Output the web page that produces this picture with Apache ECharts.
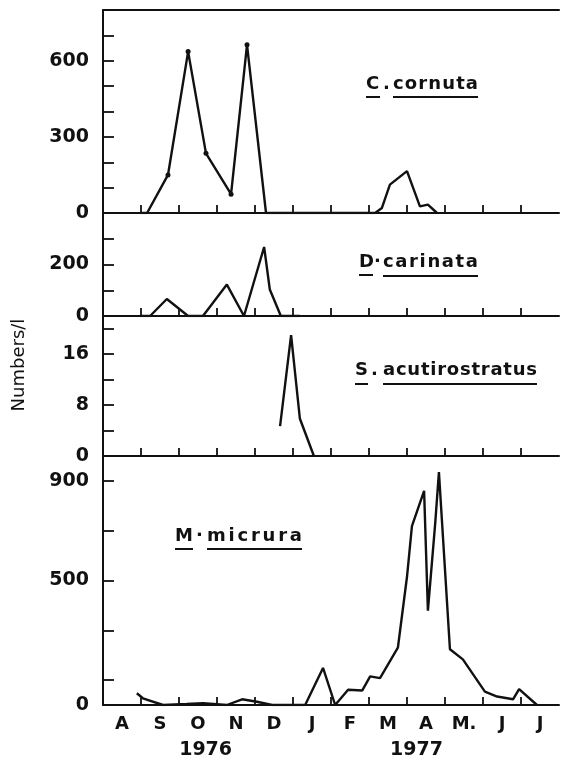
<!DOCTYPE html>
<html><head><meta charset="utf-8">
<script src="https://cdn.jsdelivr.net/npm/echarts@6/dist/echarts.min.js"></script>
<style>html,body{margin:0;padding:0;background:#fff}#c{width:565px;height:760px}</style>
</head><body><div id="c"></div>
<script>
// x values are months elapsed since 1 Aug 1976
const monthLabels = ['A','S','O','N','D','J','F','M','A','M.','J','J'];
const monthTicks = [1,2,3,4,5,6,7,8,9,10,11];
const yearLabels = ['1976','1977'];
const yearAt = [2.7, 8.25];

const cornutaX = [1.0, 1.16, 1.71, 2.24, 2.71, 3.37, 3.79, 4.29, 7.16, 7.34, 7.55, 8.0, 8.34, 8.55, 8.79];
const cornutaY = [0, 0, 150, 636, 235, 74, 663, 0, 0, 20, 112, 165, 26, 33, 0];
const cornutaTicks = [100,200,300,400,500,600,700];
const cornutaLabels = [0,300,600];

const carinataX = [0.97, 1.24, 1.68, 2.24, 2.63, 3.26, 3.71, 4.24, 4.39, 4.68, 5.18];
const carinataY = [0, 0, 66, 0, 0, 122, 0, 268, 103, 0, 0];
const carinataTicks = [100,200,300];
const carinataLabels = [0,200];

const acutiX = [4.66, 4.95, 5.18, 5.55];
const acutiY = [4.7, 19, 5.9, 0];
const acutiTicks = [4,8,12,16,20];
const acutiLabels = [0,8,16];

const micruraX = [0.89, 1.05, 1.58, 2.2, 2.63, 3.26, 3.66, 4.05, 4.45, 5.32, 5.79, 6.11, 6.45, 6.82, 7.03, 7.29, 7.76, 8.0, 8.13, 8.45, 8.55, 8.74, 8.84, 9.13, 9.47, 10.05, 10.37, 10.79, 10.95, 11.42];
const micruraY = [47, 27, 0, 4, 7, 0, 23, 13, 0, 0, 149, 0, 61, 58, 115, 108, 230, 515, 718, 860, 379, 725, 935, 224, 183, 54, 34, 23, 64, 0];
const micruraTicks = [100,300,500,700,900];
const micruraLabels = [0,500,900];

const panels = [
  {x: cornutaX, y: cornutaY, max: 800, ticks: cornutaTicks, labels: cornutaLabels, dots: true},
  {x: carinataX, y: carinataY, max: 400, ticks: carinataTicks, labels: carinataLabels},
  {x: acutiX, y: acutiY, max: 22, ticks: acutiTicks, labels: acutiLabels},
  {x: micruraX, y: micruraY, max: 1000, ticks: micruraTicks, labels: micruraLabels}
];

const INK = '#111';
const FONT = 'DejaVu Sans';
const gridBoxes = [[10,203],[213,103],[316,140],[456,249]];

const grid = gridBoxes.map(([t,h]) => ({left:103, width:456, top:t, height:h}));

const xAxis = panels.map((p,i) => ({
  gridIndex:i, type:'value', min:0, max:12, position:'bottom',
  axisLine:{show:true, onZero:false, lineStyle:{color:INK, width:2}},
  axisTick:{show:true, inside:true, length:8, customValues:monthTicks, lineStyle:{color:INK, width:1.8}},
  axisLabel:{show:i===3, customValues: monthLabels.map((m,k)=>k+0.5),
    formatter:v=>monthLabels[Math.round(v-0.5)], color:INK, fontFamily:FONT, fontWeight:'bold', fontSize:18, margin:10},
  splitLine:{show:false}
}));
xAxis.push({gridIndex:0, type:'value', min:0, max:12, position:'top',
  axisLine:{show:true, onZero:false, lineStyle:{color:INK, width:2}},
  axisTick:{show:false}, axisLabel:{show:false}, splitLine:{show:false}});
xAxis.push({gridIndex:3, type:'value', min:0, max:12, position:'bottom',
  axisLine:{show:false}, axisTick:{show:false}, splitLine:{show:false},
  axisLabel:{show:true, customValues:yearAt, formatter:v=>yearLabels[yearAt.indexOf(v)],
    color:INK, fontFamily:FONT, fontWeight:'bold', fontSize:19, margin:36}});

const yAxis = panels.map((p,i) => ({
  gridIndex:i, type:'value', min:0, max:p.max,
  axisLine:{show:true, onZero:false, lineStyle:{color:INK, width:2}},
  axisTick:{show:true, inside:true, length:11, customValues:p.ticks, lineStyle:{color:INK, width:1.8}},
  axisLabel:{show:true, customValues:p.labels, color:INK, fontFamily:FONT, fontWeight:'bold', fontSize:19, margin:14},
  splitLine:{show:false}
}));

const series = panels.map((p,i) => ({
  type:'line', xAxisIndex:i, yAxisIndex:i,
  data: p.x.map((v,k)=>[v, p.y[k]]),
  showSymbol: !!p.dots,
  symbol: p.dots ? (v => (v[0] < 4 && v[1] > 0) ? 'circle' : 'none') : 'none',
  symbolSize: 5,
  itemStyle:{color:INK},
  lineStyle:{color:INK, width:2.4},
  silent:true, animation:false
}));

// species names: letters spread to fit the lettering of the original
const mctx = document.createElement('canvas').getContext('2d');
function word(str, x0, x1, yMid, size, under) {
  const font = 'bold ' + size + 'px "' + FONT + '"';
  mctx.font = font;
  const chars = [...str];
  const widths = chars.map(c => mctx.measureText(c).width);
  const natural = widths.reduce((a,b)=>a+b,0);
  const gap = chars.length > 1 ? (x1 - x0 - natural) / (chars.length - 1) : 0;
  const els = [];
  let cx = x0;
  chars.forEach((c,k) => {
    els.push({type:'text', x:cx, y:yMid, silent:true,
      style:{text:c, font:font, fill:INK, align:'left', verticalAlign:'middle'}});
    cx += widths[k] + gap;
  });
  if (under != null) {
    els.push({type:'line', silent:true, shape:{x1:x0, y1:under, x2:x1, y2:under}, style:{stroke:INK, lineWidth:2}});
  }
  return els;
}
const graphic = [].concat(
  word('C', 366, 380, 84, 18, 97), word('.', 383, 388, 84, 18, null), word('cornuta', 393, 478, 84, 18, 97),
  word('D', 359, 373, 262, 18, 275), word('·', 374, 380, 262, 18, null), word('carinata', 383, 478, 262, 18, 276),
  word('S', 355, 368, 370, 18, 384), word('.', 371, 376, 370, 18, null), word('acutirostratus', 383, 537, 370, 18, 384),
  word('M', 175, 193, 536, 18, 549), word('·', 196, 202, 536, 18, null), word('micrura', 207, 302, 536, 18, 549),
  [{type:'text', x:19, y:365, rotation:Math.PI/2, silent:true,
    style:{text:'Numbers/l', font:'18px "' + FONT + '"', fill:INK, align:'center', verticalAlign:'middle'}}]
);

const chart = echarts.init(document.getElementById('c'), null, {renderer:'canvas'});
chart.setOption({animation:false, backgroundColor:'#fff', grid, xAxis, yAxis, series, graphic});
</script>
</body></html>
